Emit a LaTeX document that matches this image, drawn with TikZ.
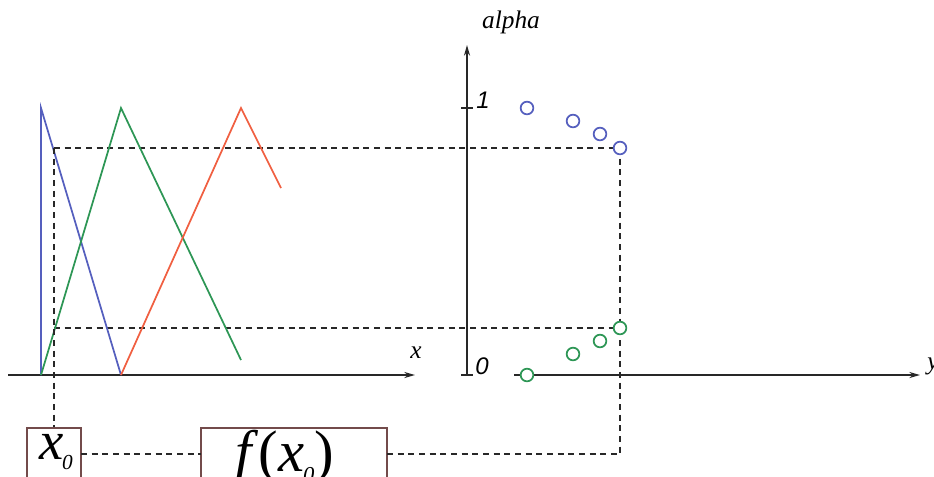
\documentclass[tikz,border=0pt]{standalone}
\usepackage{fontspec}
\setmainfont{Liberation Serif}
\newfontfamily\arialit{Liberation Sans}[ItalicFont=* Italic]
\usetikzlibrary{arrows.meta}
\definecolor{mfblue}{RGB}{85,95,190}
\definecolor{mfgreen}{RGB}{45,150,85}
\definecolor{mfred}{RGB}{240,95,65}
\definecolor{boxbrown}{RGB}{115,75,75}
\definecolor{axisgray}{RGB}{40,40,40}
\tikzset{
  axisline/.style={line width=1.4pt, draw=axisgray, -{Stealth[length=8pt,width=4.5pt]}},
  mfline/.style={line width=1.3pt},
  guide/.style={line width=1.4pt, draw=axisgray, dash pattern=on 4.5pt off 3.5pt},
  valbox/.style={draw=boxbrown, line width=1.3pt, fill=white, inner sep=0pt},
  dot/.style={circle, draw, line width=1.3pt, minimum size=9.5pt, inner sep=0pt, fill=white},
  lbl/.style={inner sep=0pt, font=\itshape}
}
\begin{document}
\begin{tikzpicture}[x=0.75pt,y=-0.75pt]
\useasboundingbox (0,0) rectangle (934,476);
\clip (0,0) rectangle (934,476);

% guide coordinates
\coordinate (g1) at (54,148);
\coordinate (g2) at (54,328);
\coordinate (gr) at (620,454);

% dashed guides
\draw[guide] (g1) -- (620,148);
\draw[guide] (g2) -- (620,328);
\draw[guide] (620,148) -- (gr);

% left axis
\coordinate (xa0) at (8,375);
\coordinate (xa1) at (415,375);
\draw[axisline] (xa0) -- (xa1);
\node[lbl, font=\itshape\fontsize{19}{19}\selectfont] (xlab) at (416,353) {x};

% membership functions
\draw[mfline, mfblue] (41,375) -- (41,108) -- (121,375);
\draw[mfline, mfgreen] (41,375) -- (121,108) -- (241,360);
\draw[mfline, mfred] (121,375) -- (241,108) -- (281,188);

% vertical dashed from x0
\draw[guide] (g1) -- (54,428);

% boxes
\draw[valbox] (27,428) rectangle (81,500);
\draw[valbox] (201,428) rectangle (387,500);
\node[inner sep=0pt, font=\fontsize{41}{41}\selectfont] (x0) at (56,452) {\textit{x}\kern-1pt\raisebox{-0.4ex}{\fontsize{16}{16}\selectfont\textit{0}}};
\node[inner sep=0pt, font=\fontsize{44}{44}\selectfont] (fx0) at (285,457) {\textit{f}(\textit{x}\kern-1pt\raisebox{-0.4ex}{\fontsize{17}{17}\selectfont\textit{0}})};
\coordinate (b1r) at (81,454);
\coordinate (b2l) at (201,454);
\coordinate (b2r) at (387,454);
\draw[guide] (b1r) -- (b2l);
\draw[guide] (b2r) -- (gr);

% right axes
\coordinate (ya0) at (467,375);
\coordinate (ya1) at (467,45);
\draw[axisline] (ya0) -- (ya1);
\draw[line width=1.4pt, axisgray] (461,375) -- (473,375);
\draw[line width=1.4pt, axisgray] (461,108) -- (473,108);
\node[inner sep=0pt, font=\arialit\itshape\fontsize{18}{18}\selectfont] (one) at (483,100) {1};
\node[inner sep=0pt, font=\arialit\itshape\fontsize{18}{18}\selectfont] (zero) at (482,366) {0};
\node[lbl, font=\itshape\fontsize{19}{19}\selectfont] (alab) at (511,22) {alpha};
\coordinate (yb0) at (514,375);
\coordinate (yb1) at (920,375);
\draw[axisline] (yb0) -- (yb1);
\node[lbl, font=\itshape\fontsize{19}{19}\selectfont, anchor=west] (ylab) at (927,366) {y};

% circles
\node[dot, draw=mfblue] (b1) at (527,108) {};
\node[dot, draw=mfblue] (b2) at (573,121) {};
\node[dot, draw=mfblue] (b3) at (600,134) {};
\node[dot, draw=mfblue] (b4) at (620,148) {};
\node[dot, draw=mfgreen] (c1) at (527,375) {};
\node[dot, draw=mfgreen] (c2) at (573,354) {};
\node[dot, draw=mfgreen] (c3) at (600,341) {};
\node[dot, draw=mfgreen] (c4) at (620,328) {};
\end{tikzpicture}
\end{document}
